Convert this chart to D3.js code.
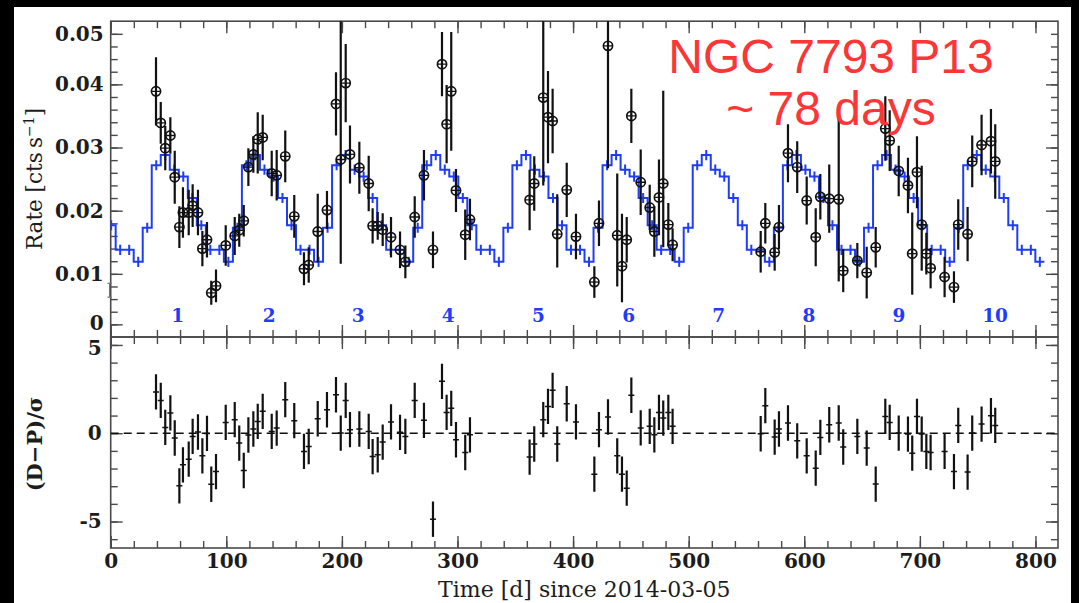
<!DOCTYPE html>
<html>
<head>
<meta charset="utf-8">
<script src="https://cdn.jsdelivr.net/npm/d3@7"></script>
<style>
  html, body { margin: 0; padding: 0; background: #000; }
  svg { display: block; }
</style>
</head>
<body>
<svg id="chart" width="1079" height="603"></svg>
<script>
// NGC 7793 P13 light curve: observed rates with a folded ~78 d step model,
// and the normalised residuals (D-P)/sigma underneath.

// Observation times [d since 2014-03-05]
const obsTimes = [
  39.2, 43.3, 47.2, 51.6, 55.4, 59.4, 62.5, 67.5, 70.9, 75.5, 79.3, 83.3, 87.0, 91.1, 99.5, 107.3, 111.2, 115.1, 119.1, 123.4,
  127.2, 131.5, 139.3, 143.6, 151.0, 158.8, 167.2, 171.3, 179.1, 187.1, 194.9, 199.0, 203.3, 207.0,
  215.1, 223.2, 226.6, 231.0, 235.3, 242.5, 250.3, 254.9, 263.0, 271.0, 278.8, 286.6, 290.6, 294.6, 298.7, 306.7, 310.8,
  362.4, 366.4, 374.2, 378.3, 382.3, 386.3, 394.5, 402.5, 418.4, 422.4, 430.2, 438.2, 442.3, 446.4, 450.4, 458.5, 466.3,
  470.3, 474.3, 478.0, 482.4, 486.1,
  562.3, 566.3, 574.4, 578.1, 585.9, 593.9, 602.1, 609.9, 613.9, 621.6, 629.8, 633.7, 645.9, 654.0, 661.8, 670.1, 673.9,
  681.7, 689.7, 693.4, 697.5, 701.6, 705.6, 709.3, 721.4, 729.5, 733.2, 741.3, 745.3, 753.4, 761.5, 765.2
];

// Count rates [cts/s]
const obsRates = [
  0.0389, 0.0339, 0.0299, 0.0319, 0.0253, 0.0174, 0.0197, 0.0197, 0.0208, 0.0197, 0.0140, 0.0154, 0.0070, 0.0081, 0.0145, 0.0160, 0.0169, 0.0184, 0.0269, 0.0289,
  0.0313, 0.0316, 0.0259, 0.0256, 0.0286, 0.0191, 0.0108, 0.0114, 0.0167, 0.0201, 0.0369, 0.0281, 0.0402, 0.0289,
  0.0268, 0.0243, 0.0176, 0.0176, 0.0170, 0.0158, 0.0138, 0.0119, 0.0190, 0.0256, 0.0138, 0.0432, 0.0337, 0.0389, 0.0232, 0.0162, 0.0186,
  0.0217, 0.0243, 0.0379, 0.0348, 0.0342, 0.0163, 0.0233, 0.0159, 0.0087, 0.0180, 0.0461, 0.0161, 0.0112, 0.0154, 0.0350, 0.0245, 0.0205,
  0.0167, 0.0221, 0.0243, 0.0178, 0.0146,
  0.0135, 0.0180, 0.0134, 0.0174, 0.0291, 0.0269, 0.0216, 0.0158, 0.0222, 0.0219, 0.0218, 0.0105, 0.0121, 0.0102, 0.0142, 0.0330, 0.0311,
  0.0263, 0.0240, 0.0132, 0.0261, 0.0178, 0.0132, 0.0109, 0.0095, 0.0079, 0.0178, 0.0163, 0.0278, 0.0304, 0.0310, 0.0278
];

// Upper and lower 1-sigma errors on the rates
const obsErrUp = [
  0.0054, 0.0033, 0.0035, 0.0029, 0.0042, 0.0033, 0.0040, 0.0036, 0.0034, 0.0036, 0.0028, 0.0028, 0.0019, 0.0026, 0.0032, 0.0030, 0.0026, 0.0025, 0.0030, 0.0029,
  0.0043, 0.0036, 0.0036, 0.0040, 0.0041, 0.0034, 0.0026, 0.0028, 0.0060, 0.0030, 0.0050, 0.0240, 0.0062, 0.0046,
  0.0041, 0.0044, 0.0028, 0.0022, 0.0026, 0.0032, 0.0029, 0.0026, 0.0033, 0.0040, 0.0029, 0.0051, 0.0062, 0.0094, 0.0034, 0.0040, 0.0033,
  0.0048, 0.0043, 0.0160, 0.0073, 0.0051, 0.0063, 0.0043, 0.0036, 0.0025, 0.0036, 0.0220, 0.0098, 0.0083, 0.0036, 0.0043, 0.0052, 0.0036,
  0.0040, 0.0060, 0.0147, 0.0034, 0.0026,
  0.0033, 0.0032, 0.0029, 0.0035, 0.0046, 0.0041, 0.0038, 0.0046, 0.0036, 0.0054, 0.0130, 0.0034, 0.0028, 0.0041, 0.0032, 0.0051, 0.0048,
  0.0040, 0.0044, 0.0065, 0.0057, 0.0093, 0.0033, 0.0032, 0.0032, 0.0025, 0.0040, 0.0043, 0.0041, 0.0048, 0.0051, 0.0059
];
const obsErrDown = [
  0.0054, 0.0033, 0.0035, 0.0029, 0.0042, 0.0033, 0.0040, 0.0036, 0.0034, 0.0036, 0.0028, 0.0028, 0.0019, 0.0026, 0.0032, 0.0030, 0.0026, 0.0025, 0.0030, 0.0029,
  0.0054, 0.0036, 0.0036, 0.0040, 0.0041, 0.0034, 0.0026, 0.0028, 0.0049, 0.0030, 0.0050, 0.0165, 0.0062, 0.0046,
  0.0041, 0.0044, 0.0028, 0.0022, 0.0026, 0.0032, 0.0029, 0.0026, 0.0033, 0.0040, 0.0029, 0.0051, 0.0062, 0.0094, 0.0034, 0.0040, 0.0033,
  0.0048, 0.0043, 0.0139, 0.0073, 0.0051, 0.0053, 0.0043, 0.0036, 0.0025, 0.0036, 0.0194, 0.0081, 0.0057, 0.0036, 0.0043, 0.0052, 0.0036,
  0.0040, 0.0060, 0.0101, 0.0034, 0.0026,
  0.0033, 0.0032, 0.0029, 0.0035, 0.0046, 0.0041, 0.0038, 0.0046, 0.0036, 0.0054, 0.0130, 0.0034, 0.0028, 0.0041, 0.0032, 0.0051, 0.0048,
  0.0040, 0.0044, 0.0065, 0.0057, 0.0073, 0.0033, 0.0032, 0.0032, 0.0025, 0.0040, 0.0043, 0.0041, 0.0048, 0.0051, 0.0059
];

// Normalised residuals (D-P)/sigma for the same observations
const residuals = [
  2.34, 1.86, 0.33, 1.15, -0.27, -2.98, -1.79, -1.47, -0.18, 0.07, -1.28, -0.01, -2.89, -2.17, 0.61, 0.77, -0.56, -2.11, -0.10, 0.24,
  0.67, 1.24, 0.10, 0.29, 1.90, 0.71, -1.03, -0.75, 0.82, 1.33, 2.18, 0.01, 1.86, 0.20,
  0.24, 0.10, -1.32, -1.22, -0.50, 0.64, 0.05, -0.18, 1.86, 0.73, -4.87, 2.94, 1.18, 1.41, -0.37, -1.09, -0.09,
  -1.35, -0.61, 0.77, 1.52, 2.43, -0.61, 1.67, 0.64, -2.32, 0.20, 0.92, -1.28, -2.32, -3.11, 2.15, 0.30, 0.39,
  -0.09, 1.18, 0.86, 1.18, 0.39,
  -0.03, 1.56, -0.22, 0.24, 0.58, -0.43, -1.28, -1.98, -0.24, 0.48, 0.58, -0.78, -0.18, -0.84, -2.88, 0.95, 0.61,
  0.01, -0.05, -1.13, 0.95, -0.05, -1.03, -1.09, -1.03, -2.17, 0.44, -2.20, 0.01, 0.52, 0.99, 0.44
];
const residualSigma = 1;

// Periodic step model: one level per 7.8 d phase bin, starting at t = -3.5 d
const modelStart = -3.5;
const modelBinWidth = 7.8;
const modelErr = 0.0008;
const modelLevels = [
  0.0177, 0.0138, 0.0138, 0.0119, 0.0173,
  0.0272, 0.0288, 0.0265, 0.0254, 0.0220, 0.0177, 0.0138, 0.0138, 0.0119, 0.0173,
  0.0272, 0.0288, 0.0265, 0.0254, 0.0220, 0.0177, 0.0138, 0.0138, 0.0119, 0.0173,
  0.0272, 0.0288, 0.0265, 0.0254, 0.0220, 0.0177, 0.0138, 0.0138, 0.0119, 0.0173,
  0.0272, 0.0288, 0.0265, 0.0254, 0.0220, 0.0177, 0.0138, 0.0138, 0.0119, 0.0173,
  0.0272, 0.0288, 0.0265, 0.0254, 0.0220, 0.0177, 0.0138, 0.0138, 0.0119, 0.0173,
  0.0272, 0.0288, 0.0265, 0.0254, 0.0220, 0.0177, 0.0138, 0.0138, 0.0119, 0.0173,
  0.0272, 0.0288, 0.0265, 0.0254, 0.0220, 0.0177, 0.0138, 0.0138, 0.0119, 0.0173,
  0.0272, 0.0288, 0.0265, 0.0254, 0.0220, 0.0177, 0.0138, 0.0138, 0.0119, 0.0173,
  0.0272, 0.0288, 0.0265, 0.0254, 0.0220, 0.0177, 0.0138, 0.0138, 0.0119, 0.0173,
  0.0272, 0.0288, 0.0265, 0.0254, 0.0220, 0.0177, 0.0138, 0.0138, 0.0119
];

// Cycle numbers along the bottom of the light curve
const cycleLabels = ["1", "2", "3", "4", "5", "6", "7", "8", "9", "10"];
const cycleTimes = [58, 137, 214, 292, 370, 448, 526, 604, 682, 765];

// Lone point at the left edge, drawn as a bare error bar
const edgeTimes = [-1.0];
const edgeRates = [0.0074];
const edgeErrs = [0.0011];

// Axis ticks
const xMajorTicks = [0, 100, 200, 300, 400, 500, 600, 700, 800];
const xMinorTicks = d3.range(0, 820, 20);
const rateMajorTicks = [0.002, 0.01, 0.02, 0.03, 0.04, 0.048];
const rateMajorLabels = ["0", "0.01", "0.02", "0.03", "0.04", "0.05"];
const rateMinorTicks = d3.range(0.002, 0.0495, 0.002);
const residMajorTicks = [-5, 0, 5];
const residMajorLabels = ["-5", "0", "5"];
const residMinorTicks = d3.range(-6, 6, 1);

const titleLines = ["NGC 7793 P13", "~ 78 days"];

// ---------------------------------------------------------------------------
const svg = d3.select("#chart");
const W = 1079, H = 603;

const left = 110.7, right = 1058;
const topY = 21.2, midY = 337, botY = 548;

const blue = "#1f3cf8";
const ink = "#111";
const axisCol = "#4a4a4a";
const serif = "DejaVu Serif, Liberation Serif, serif";

// page
svg.append("rect").attr("x", 0).attr("y", 0).attr("width", W).attr("height", H).attr("fill", "#000");
svg.append("rect").attr("x", 14).attr("y", 7).attr("width", 1057).attr("height", 596).attr("fill", "#fff");

const x = d3.scaleLinear().domain([0, 819.5]).range([left, right]);
const yRate = d3.scaleLinear().domain([0, 0.05]).range([midY, topY]);
const yRes = d3.scaleLinear().domain([-6.5, 5.45]).range([botY, midY]);

const defs = svg.append("defs");
defs.append("clipPath").attr("id", "clipTop")
  .append("rect").attr("x", left).attr("y", topY).attr("width", right - left).attr("height", midY - topY);
defs.append("clipPath").attr("id", "clipBot")
  .append("rect").attr("x", left).attr("y", midY).attr("width", right - left).attr("height", botY - midY);

// ---- axes ----
function styleAxis(g, withLabels) {
  g.select(".domain").remove();
  g.selectAll(".tick line").attr("stroke", axisCol).attr("stroke-width", 1.4);
  g.selectAll(".tick text")
    .attr("fill", "#1c1c1c")
    .style("font-family", serif)
    .style("font-weight", "bold")
    .style("font-size", "20px");
  if (!withLabels) g.selectAll(".tick text").remove();
}

function addAxis(axis, tx, ty, withLabels) {
  const g = svg.append("g").attr("transform", `translate(${tx},${ty})`).call(axis);
  styleAxis(g, withLabels);
  return g;
}

// horizontal axes (ticks pointing into each panel)
[[d3.axisTop, topY], [d3.axisBottom, midY], [d3.axisTop, midY]].forEach(([mk, yy]) => {
  addAxis(mk(x).tickValues(xMinorTicks).tickSizeInner(-7).tickSizeOuter(0).tickFormat(""), 0, yy, false);
  addAxis(mk(x).tickValues(xMajorTicks).tickSizeInner(-12).tickSizeOuter(0).tickFormat(""), 0, yy, false);
});
addAxis(d3.axisBottom(x).tickValues(xMinorTicks).tickSizeInner(-7).tickSizeOuter(0).tickFormat(""), 0, botY, false);
addAxis(d3.axisBottom(x).tickValues(xMajorTicks).tickSizeInner(-12).tickSizeOuter(0).tickPadding(6)
  .tickFormat(d3.format("d")), 0, botY, true);

// rate axes
addAxis(d3.axisLeft(yRate).tickValues(rateMinorTicks).tickSizeInner(-7).tickSizeOuter(0).tickFormat(""), left, 0, false);
const rateLabelAxis = addAxis(d3.axisLeft(yRate).tickValues(rateMajorTicks).tickSizeInner(-12).tickSizeOuter(0).tickPadding(7)
  .tickFormat((d, i) => rateMajorLabels[i]), left, 0, true);
addAxis(d3.axisRight(yRate).tickValues(rateMinorTicks).tickSizeInner(-7).tickSizeOuter(0).tickFormat(""), right, 0, false);
addAxis(d3.axisRight(yRate).tickValues(rateMajorTicks.slice(1, 5)).tickSizeInner(-12).tickSizeOuter(0).tickFormat(""), right, 0, false);

// residual axes
addAxis(d3.axisLeft(yRes).tickValues(residMinorTicks).tickSizeInner(-7).tickSizeOuter(0).tickFormat(""), left, 0, false);
const resLabelAxis = addAxis(d3.axisLeft(yRes).tickValues(residMajorTicks).tickSizeInner(-12).tickSizeOuter(0).tickPadding(9)
  .tickFormat((d, i) => residMajorLabels[i]), left, 0, true);
addAxis(d3.axisRight(yRes).tickValues(residMinorTicks).tickSizeInner(-7).tickSizeOuter(0).tickFormat(""), right, 0, false);
addAxis(d3.axisRight(yRes).tickValues(residMajorTicks).tickSizeInner(-12).tickSizeOuter(0).tickFormat(""), right, 0, false);

// keep the labels next to the shared panel edge apart
rateLabelAxis.selectAll(".tick text").filter(d => d === rateMajorTicks[0]).attr("y", -1.5);
resLabelAxis.selectAll(".tick text").filter(d => d === 5).attr("y", 3.5);

// panel frames
svg.append("rect").attr("x", left).attr("y", topY).attr("width", right - left).attr("height", midY - topY)
  .attr("fill", "none").attr("stroke", axisCol).attr("stroke-width", 1.6);
svg.append("rect").attr("x", left).attr("y", midY).attr("width", right - left).attr("height", botY - midY)
  .attr("fill", "none").attr("stroke", axisCol).attr("stroke-width", 1.6);

// ---- top panel: model ----
const topG = svg.append("g").attr("clip-path", "url(#clipTop)");

const modelBins = modelLevels.map((v, i) => ({ t0: modelStart + i * modelBinWidth, v }));
const stepPts = modelBins.map(b => [b.t0, b.v]);
stepPts.push([modelStart + modelLevels.length * modelBinWidth, modelLevels[modelLevels.length - 1]]);

topG.append("path")
  .attr("d", d3.line().x(d => x(d[0])).y(d => yRate(d[1])).curve(d3.curveStepAfter)(stepPts))
  .attr("fill", "none").attr("stroke", blue).attr("stroke-width", 2);

topG.selectAll("line.merr").data(modelBins).join("line")
  .attr("class", "merr")
  .attr("x1", d => x(d.t0 + modelBinWidth / 2)).attr("x2", d => x(d.t0 + modelBinWidth / 2))
  .attr("y1", d => yRate(d.v + modelErr)).attr("y2", d => yRate(d.v - modelErr))
  .attr("stroke", blue).attr("stroke-width", 2);

// ---- top panel: data ----
const obs = obsTimes.map((t, i) => ({ t, r: obsRates[i], up: obsErrUp[i], dn: obsErrDown[i], res: residuals[i] }));

topG.selectAll("line.oerr").data(obs).join("line")
  .attr("class", "oerr")
  .attr("x1", d => x(d.t)).attr("x2", d => x(d.t))
  .attr("y1", d => yRate(d.r + d.up)).attr("y2", d => yRate(d.r - d.dn))
  .attr("stroke", ink).attr("stroke-width", 2.2);

const mk = topG.selectAll("g.obs").data(obs).join("g")
  .attr("class", "obs")
  .attr("transform", d => `translate(${x(d.t)},${yRate(d.r)})`);
mk.append("circle").attr("r", 4.6).attr("fill", "none").attr("stroke", ink).attr("stroke-width", 1.7);
mk.append("line").attr("x1", -4.6).attr("x2", 4.6).attr("y1", 0).attr("y2", 0).attr("stroke", ink).attr("stroke-width", 1.3);
mk.append("line").attr("x1", 0).attr("x2", 0).attr("y1", -4.6).attr("y2", 4.6).attr("stroke", ink).attr("stroke-width", 1.3);

// edge point (bare error bar with caps)
const edge = svg.selectAll("g.edge").data(edgeTimes.map((t, i) => ({ t, r: edgeRates[i], e: edgeErrs[i] }))).join("g")
  .attr("class", "edge");
edge.append("line")
  .attr("x1", d => x(d.t)).attr("x2", d => x(d.t))
  .attr("y1", d => yRate(d.r + d.e)).attr("y2", d => yRate(d.r - d.e))
  .attr("stroke", "#777").attr("stroke-width", 1.2);
[1, -1].forEach(s => {
  edge.append("line")
    .attr("x1", d => x(d.t) - 2.2).attr("x2", d => x(d.t) + 2.2)
    .attr("y1", d => yRate(d.r + s * d.e)).attr("y2", d => yRate(d.r + s * d.e))
    .attr("stroke", "#777").attr("stroke-width", 1.2);
});

// cycle numbers
svg.selectAll("text.cycle").data(cycleLabels).join("text")
  .attr("class", "cycle")
  .attr("x", (d, i) => x(cycleTimes[i])).attr("y", 322)
  .attr("text-anchor", "middle")
  .attr("fill", blue)
  .style("font-family", serif).style("font-weight", "bold").style("font-size", "18.5px")
  .text(d => d);

// title
svg.selectAll("text.title").data(titleLines).join("text")
  .attr("class", "title")
  .attr("x", 831).attr("y", (d, i) => 73 + i * 52)
  .attr("text-anchor", "middle")
  .attr("fill", "#fb3636")
  .style("font-family", "Liberation Sans, Arial, sans-serif").style("font-size", "48px")
  .text(d => d);

// ---- bottom panel ----
const botG = svg.append("g").attr("clip-path", "url(#clipBot)");

botG.append("line")
  .attr("x1", x(0)).attr("x2", x(819.5)).attr("y1", yRes(0)).attr("y2", yRes(0))
  .attr("stroke", ink).attr("stroke-width", 1.6).attr("stroke-dasharray", "8,5");

botG.selectAll("line.rerr").data(obs).join("line")
  .attr("class", "rerr")
  .attr("x1", d => x(d.t)).attr("x2", d => x(d.t))
  .attr("y1", d => yRes(d.res + residualSigma)).attr("y2", d => yRes(d.res - residualSigma))
  .attr("stroke", ink).attr("stroke-width", 2.2);
botG.selectAll("line.rmk").data(obs).join("line")
  .attr("class", "rmk")
  .attr("x1", d => x(d.t) - 3).attr("x2", d => x(d.t) + 3)
  .attr("y1", d => yRes(d.res)).attr("y2", d => yRes(d.res))
  .attr("stroke", ink).attr("stroke-width", 1.5);

// ---- axis titles ----
const yTitle = svg.append("text")
  .attr("transform", "translate(42,179) rotate(-90)")
  .attr("text-anchor", "middle")
  .attr("fill", "#1c1c1c")
  .style("font-family", serif).style("font-size", "21.5px");
yTitle.append("tspan").text("Rate [cts\u2009s");
yTitle.append("tspan").attr("dy", -8).style("font-size", "14px").text("\u22121");
yTitle.append("tspan").attr("dy", 8).text("]");

svg.append("text")
  .attr("transform", "translate(42,444) rotate(-90)")
  .attr("text-anchor", "middle")
  .attr("fill", "#1c1c1c")
  .style("font-family", serif).style("font-size", "21px").style("font-weight", "bold")
  .text("(D\u2212P)/\u03c3");

svg.append("text")
  .attr("x", (left + right) / 2).attr("y", 597)
  .attr("text-anchor", "middle")
  .attr("fill", "#1c1c1c")
  .style("font-family", serif).style("font-size", "22px")
  .text("Time [d] since 2014-03-05");
</script>
</body>
</html>
